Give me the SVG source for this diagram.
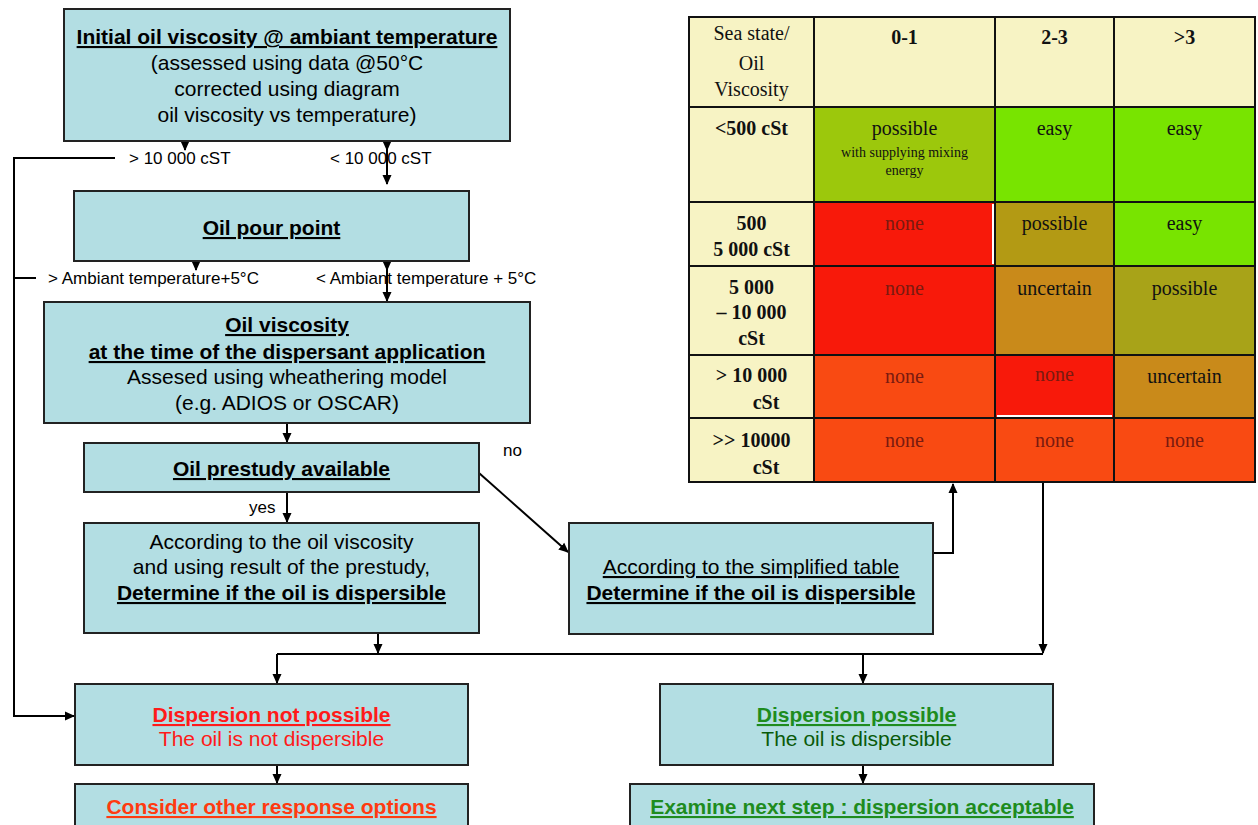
<svg xmlns="http://www.w3.org/2000/svg" width="1258" height="825" viewBox="0 0 1258 825">
<style>
.box{fill:#B3DEE3;stroke:#222;stroke-width:2}
.t{font-family:"Liberation Sans",Arial,sans-serif;font-size:21px;text-anchor:middle;fill:#000}
.b{font-weight:bold;text-decoration:underline}
.u{text-decoration:underline}
.lbl{font-family:"Liberation Sans",Arial,sans-serif;font-size:17px;fill:#000}
.c{fill:none;stroke:#000;stroke-width:2}
.cell{stroke:#111;stroke-width:2}
.s{font-family:"Liberation Serif","Times New Roman",serif;font-size:20px;text-anchor:middle;fill:#111}
.sb{font-weight:bold}
.none{fill:#7A1A10}
.small{font-size:14px}
.red{fill:#FF1A1A}
.ored{fill:#FF3A10}
.grn{fill:#1E8C1E}
.dgrn{fill:#0A5A0A}
</style>
<defs>
<marker id="ah" markerWidth="10" markerHeight="10" refX="9" refY="5" orient="auto" markerUnits="userSpaceOnUse">
<path d="M0,0.5 L10,5 L0,9.5 Z" fill="#000"/>
</marker>
</defs>

<g id="connectors">
<line class="c" x1="185" y1="141" x2="185" y2="150" marker-end="url(#ah)"/>
<line class="c" x1="387" y1="141" x2="387" y2="150" marker-end="url(#ah)"/>
<line class="c" x1="387" y1="150" x2="387" y2="184" marker-end="url(#ah)"/>
<polyline class="c" points="115,158 14,158 14,716 74,716" marker-end="url(#ah)"/>
<line class="c" x1="36" y1="278" x2="14" y2="278"/>
<line class="c" x1="196" y1="261" x2="196" y2="270" marker-end="url(#ah)"/>
<line class="c" x1="387" y1="261" x2="387" y2="270" marker-end="url(#ah)"/>
<line class="c" x1="387" y1="270" x2="387" y2="301" marker-end="url(#ah)"/>
<line class="c" x1="287" y1="423" x2="287" y2="442" marker-end="url(#ah)"/>
<line class="c" x1="287" y1="492" x2="287" y2="522" marker-end="url(#ah)"/>
<line class="c" x1="479" y1="473" x2="568" y2="552" marker-end="url(#ah)"/>
<polyline class="c" points="933,553 953,553 953,484" marker-end="url(#ah)"/>
<line class="c" x1="378" y1="633" x2="378" y2="653" marker-end="url(#ah)"/>
<line class="c" x1="1043" y1="483" x2="1043" y2="653" marker-end="url(#ah)"/>
<line class="c" x1="277" y1="654" x2="1043" y2="654"/>
<line class="c" x1="277" y1="654" x2="277" y2="683" marker-end="url(#ah)"/>
<line class="c" x1="863" y1="654" x2="863" y2="683" marker-end="url(#ah)"/>
<line class="c" x1="277" y1="765" x2="277" y2="783" marker-end="url(#ah)"/>
<line class="c" x1="863" y1="765" x2="863" y2="783" marker-end="url(#ah)"/>
<text class="lbl" x="129" y="164">&gt; 10 000 cST</text>
<text class="lbl" x="330" y="164">&lt; 10 000 cST</text>
<text class="lbl" x="48" y="284">&gt; Ambiant temperature+5°C</text>
<text class="lbl" x="316" y="284">&lt; Ambiant temperature + 5°C</text>
<text class="lbl" x="503" y="456">no</text>
<text class="lbl" x="249" y="513">yes</text>
</g>

<g id="initial-viscosity">
<rect class="box" x="64" y="9" width="446" height="132"/>
<text class="t b" x="287" y="44">Initial oil viscosity @ ambiant temperature</text>
<text class="t" x="287" y="70">(assessed using data @50°C</text>
<text class="t" x="287" y="96">corrected using diagram</text>
<text class="t" x="287" y="122">oil viscosity vs temperature)</text>
</g>

<g id="pour-point">
<rect class="box" x="74" y="191" width="395" height="70"/>
<text class="t b" x="271.5" y="235">Oil pour point</text>
</g>

<g id="viscosity-application">
<rect class="box" x="44" y="302" width="486" height="121"/>
<text class="t b" x="287" y="332">Oil viscosity</text>
<text class="t b" x="287" y="359">at the time of the dispersant application</text>
<text class="t" x="287" y="384">Assesed using wheathering model</text>
<text class="t" x="287" y="410">(e.g. ADIOS or OSCAR)</text>
</g>

<g id="prestudy">
<rect class="box" x="84" y="443" width="395" height="49"/>
<text class="t b" x="281.5" y="476">Oil prestudy available</text>
</g>

<g id="according-prestudy">
<rect class="box" x="84" y="523" width="395" height="110"/>
<text class="t" x="281.5" y="549">According to the oil viscosity</text>
<text class="t" x="281.5" y="574">and using result of the prestudy,</text>
<text class="t b" x="281.5" y="600">Determine if the oil is dispersible</text>
</g>

<g id="according-table">
<rect class="box" x="569" y="523" width="364" height="111"/>
<text class="t u" x="751" y="574">According to the simplified table</text>
<text class="t b" x="751" y="600">Determine if the oil is dispersible</text>
</g>

<g id="not-possible">
<rect class="box" x="75" y="684" width="393" height="81"/>
<text class="t b red" x="271.5" y="722">Dispersion not possible</text>
<text class="t red" x="271.5" y="746">The oil is not dispersible</text>
</g>

<g id="possible">
<rect class="box" x="660" y="684" width="393" height="81"/>
<text class="t b grn" x="856.5" y="722">Dispersion possible</text>
<text class="t dgrn" x="856.5" y="746">The oil is dispersible</text>
</g>

<g id="other-options">
<rect class="box" x="75" y="784" width="393" height="50"/>
<text class="t b ored" x="271.5" y="814">Consider other response options</text>
</g>

<g id="next-step">
<rect class="box" x="630" y="784" width="464" height="50"/>
<text class="t b grn" x="862" y="814">Examine next step : dispersion acceptable</text>
</g>

<g id="table">
<rect class="cell" x="689" y="17" width="125" height="90" fill="#F7F3C4"/>
<rect class="cell" x="814" y="17" width="181" height="90" fill="#F7F3C4"/>
<rect class="cell" x="995" y="17" width="119" height="90" fill="#F7F3C4"/>
<rect class="cell" x="1114" y="17" width="141" height="90" fill="#F7F3C4"/>
<rect class="cell" x="689" y="107" width="125" height="95" fill="#F7F3C4"/>
<rect class="cell" x="814" y="107" width="181" height="95" fill="#9CC80C"/>
<rect class="cell" x="995" y="107" width="119" height="95" fill="#78E400"/>
<rect class="cell" x="1114" y="107" width="141" height="95" fill="#78E400"/>
<rect class="cell" x="689" y="202" width="125" height="64" fill="#F7F3C4"/>
<rect class="cell" x="814" y="202" width="181" height="64" fill="#F8190A"/>
<rect class="cell" x="995" y="202" width="119" height="64" fill="#B39A14"/>
<rect class="cell" x="1114" y="202" width="141" height="64" fill="#78E400"/>
<rect class="cell" x="689" y="266" width="125" height="89" fill="#F7F3C4"/>
<rect class="cell" x="814" y="266" width="181" height="89" fill="#F8190A"/>
<rect class="cell" x="995" y="266" width="119" height="89" fill="#C98A1A"/>
<rect class="cell" x="1114" y="266" width="141" height="89" fill="#A8A318"/>
<rect class="cell" x="689" y="355" width="125" height="63" fill="#F7F3C4"/>
<rect class="cell" x="814" y="355" width="181" height="63" fill="#F94A12"/>
<rect class="cell" x="995" y="355" width="119" height="63" fill="#F8190A"/>
<rect class="cell" x="1114" y="355" width="141" height="63" fill="#C98A1A"/>
<rect class="cell" x="689" y="418" width="125" height="64" fill="#F7F3C4"/>
<rect class="cell" x="814" y="418" width="181" height="64" fill="#F94A12"/>
<rect class="cell" x="995" y="418" width="119" height="64" fill="#F94A12"/>
<rect class="cell" x="1114" y="418" width="141" height="64" fill="#F94A12"/>
<line x1="993" y1="204" x2="993" y2="264" stroke="#fff" stroke-width="2"/>
<line x1="997" y1="416" x2="1112" y2="416" stroke="#fff" stroke-width="2"/>

<text class="s" x="751.5" y="40">Sea state/</text>
<text class="s" x="751.5" y="70">Oil</text>
<text class="s" x="751.5" y="96">Viscosity</text>
<text class="s sb" x="904.5" y="44">0-1</text>
<text class="s sb" x="1054.5" y="44">2-3</text>
<text class="s sb" x="1184.5" y="44">&gt;3</text>

<text class="s sb" x="751.5" y="135">&lt;500 cSt</text>
<text class="s" x="904.5" y="135">possible</text>
<text class="s small" x="904.5" y="157">with supplying mixing</text>
<text class="s small" x="904.5" y="175">energy</text>
<text class="s" x="1054.5" y="135">easy</text>
<text class="s" x="1184.5" y="135">easy</text>

<text class="s sb" x="751.5" y="230">500</text>
<text class="s sb" x="751.5" y="256">5 000 cSt</text>
<text class="s none" x="904.5" y="230">none</text>
<text class="s" x="1054.5" y="230">possible</text>
<text class="s" x="1184.5" y="230">easy</text>

<text class="s sb" x="751.5" y="294">5 000</text>
<text class="s sb" x="751.5" y="319">– 10 000</text>
<text class="s sb" x="751.5" y="345">cSt</text>
<text class="s none" x="904.5" y="295">none</text>
<text class="s" x="1054.5" y="295">uncertain</text>
<text class="s" x="1184.5" y="295">possible</text>

<text class="s sb" x="751.5" y="382">&gt; 10 000</text>
<text class="s sb" x="766" y="409">cSt</text>
<text class="s none" x="904.5" y="383">none</text>
<text class="s none" x="1054.5" y="381">none</text>
<text class="s" x="1184.5" y="383">uncertain</text>

<text class="s sb" x="751.5" y="447">&gt;&gt; 10000</text>
<text class="s sb" x="766" y="474">cSt</text>
<text class="s none" x="904.5" y="447">none</text>
<text class="s none" x="1054.5" y="447">none</text>
<text class="s none" x="1184.5" y="447">none</text>
</g>
</svg>
